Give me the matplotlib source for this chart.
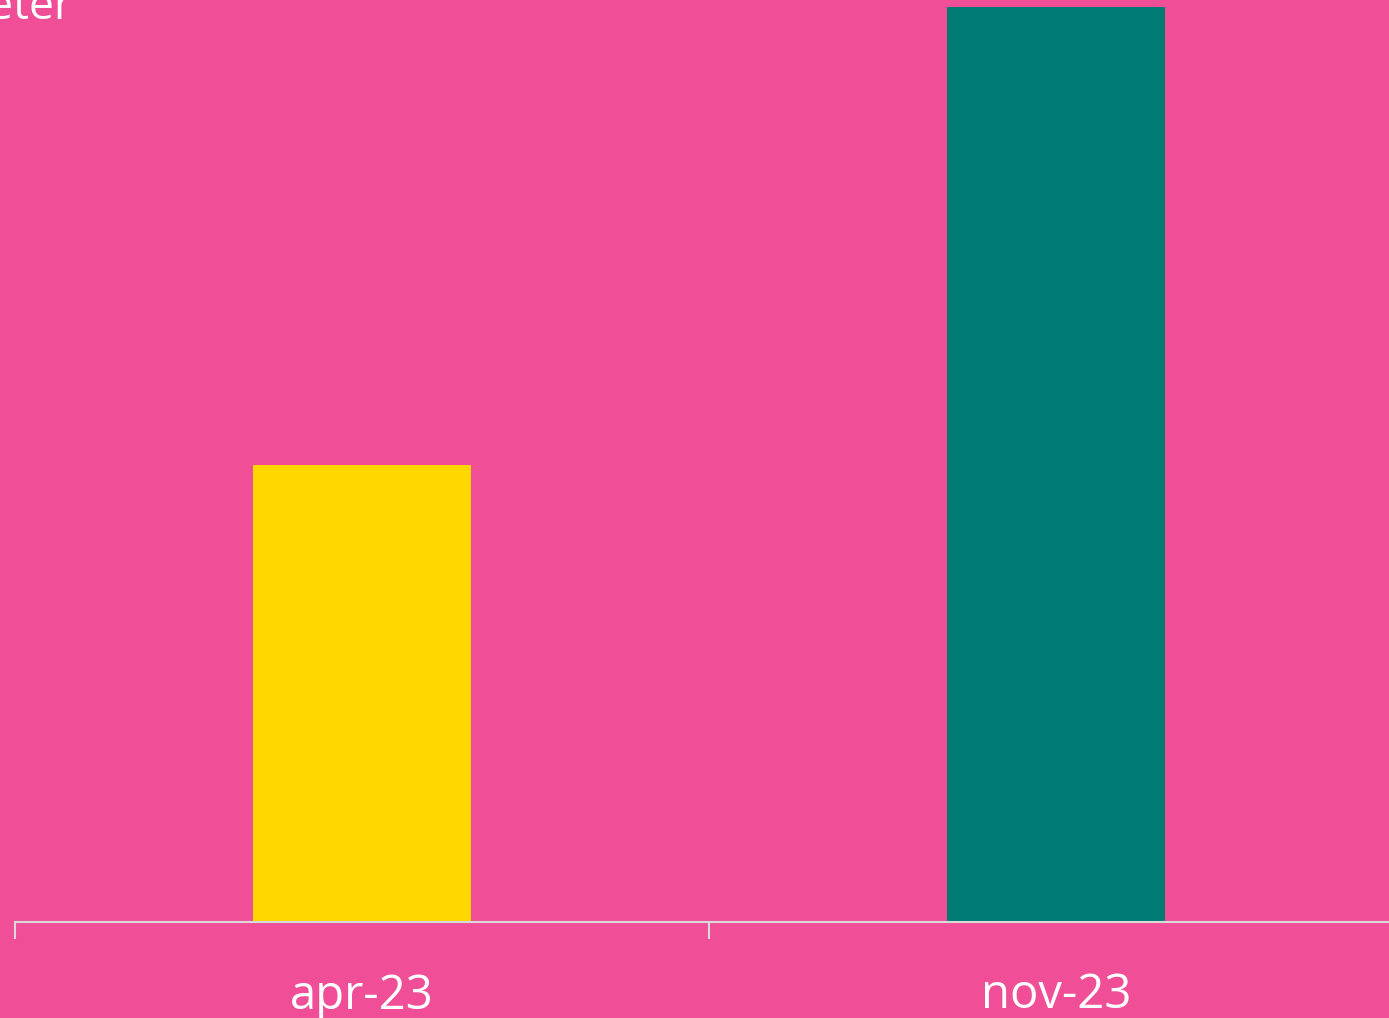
import matplotlib.pyplot as plt
from matplotlib.ticker import FixedLocator

# Data
categories = ["apr-23", "nov-23"]
values = [1.0, 2.0]
colors = ["#FFD800", "#007B74"]

bg = "#F04F98"
plt.rcParams['font.family'] = ['Open Sans', 'DejaVu Sans']

fig = plt.figure(figsize=(13.89, 10.18), dpi=100, facecolor=bg)
ax = fig.add_axes([15 / 1389, 1 - 922 / 1018, 1388 / 1389, 922 / 1018])
ax.set_facecolor(bg)

x = range(len(categories))
ax.bar(x, values, width=0.314, color=colors)

ax.set_xlim(-0.5, 1.5)
ax.set_ylim(0, 2.0 * 922 / 915)

for s in ["top", "right", "left"]:
    ax.spines[s].set_visible(False)
ax.spines["bottom"].set_color("#D9D9D9")
ax.spines["bottom"].set_linewidth(1.5)

ax.set_yticks([])
ax.set_xticks(list(x))
ax.set_xticklabels(categories, color="white", fontsize=34)
ax.tick_params(axis="x", which="major", length=0, pad=36)
ax.xaxis.set_minor_locator(FixedLocator([-0.5, 0.5, 1.5]))
ax.tick_params(axis="x", which="minor", length=12.5, width=1.5, color="#D9D9D9")

fig.text(72 / 1389, 1 - 19 / 1018, "Antal per kvadratmeter", color="white",
         fontsize=32, ha="right", va="baseline")

fig.savefig("out.png", dpi=100, facecolor=bg)
